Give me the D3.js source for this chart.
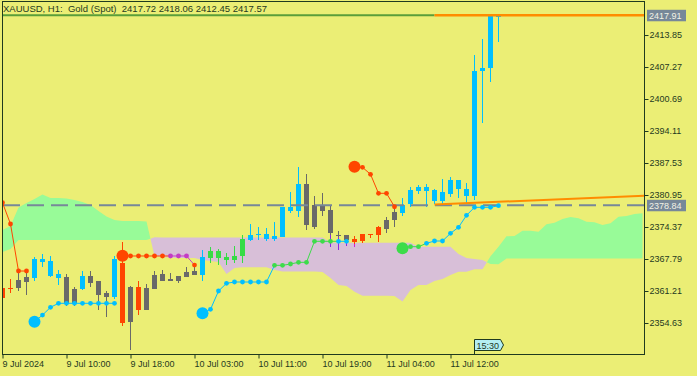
<!DOCTYPE html>
<html>
<script src="https://d3js.org/d3.v7.min.js"></script>

<head>
    <style>
        body {
            margin: 0;
            background-color: #ebee75;
        }

        svg {
            display: block;
        }
    </style>
</head>

<body>
</body>
<script>
    const width = 697,
        height = 376;

    // XAUUSD H1, one entry per bar (bar 0 = 9 Jul 02:00)
    const opens = [2361.82, 2361.80, 2363.47, 2364.09, 2363.94, 2367.23, 2364.29, 2363.94, 2364.09, 2361.62,
        2361.56, 2364.29, 2363.26, 2360.74, 2360.04, 2367.03, 2362.09, 2362.09, 2361.89, 2364.50,
        2364.70, 2363.74, 2364.29, 2365.12, 2365.26, 2364.56, 2367.99, 2367.99, 2367.64, 2367.52,
        2368.34, 2371.76, 2372.66, 2371.90, 2371.90, 2372.37, 2377.72, 2377.72, 2383.21, 2378.89,
        2378.89, 2377.86, 2372.75, 2372.66, 2371.90, 2372.93, 2372.93, 2374.43, 2375.81, 2377.51,
        2377.31, 2379.04, 2381.77, 2381.77, 2379.72, 2379.72, 2381.15, 2382.18, 2380.74, 2380.74,
        2406.51, 2407.06, 2417.72];
    const highs = [2362.24, 2363.68, 2365.38, 2365.38, 2368.14, 2368.82, 2368.41, 2365.53, 2364.70, 2362.03,
        2365.32, 2365.32, 2363.26, 2361.21, 2368.41, 2371.28, 2362.24, 2363.33, 2362.65, 2365.32,
        2365.53, 2364.85, 2364.29, 2366.08, 2366.62, 2369.70, 2370.26, 2369.91, 2369.02, 2370.40,
        2372.66, 2374.99, 2374.31, 2374.10, 2375.33, 2378.42, 2381.63, 2386.64, 2385.27, 2380.74,
        2381.30, 2378.89, 2373.61, 2372.72, 2372.58, 2372.93, 2372.93, 2374.57, 2376.49, 2378.42,
        2380.27, 2382.66, 2383.01, 2383.21, 2382.12, 2384.24, 2384.71, 2384.03, 2383.48, 2409.74,
        2413.03, 2417.76, 2418.06];
    const lows = [2359.36, 2360.74, 2361.27, 2360.39, 2363.33, 2366.20, 2364.03, 2362.44, 2358.12, 2358.12,
        2361.41, 2362.09, 2357.30, 2355.92, 2359.50, 2354.01, 2349.08, 2356.27, 2357.30, 2361.62,
        2363.26, 2363.33, 2362.91, 2364.15, 2364.44, 2363.20, 2366.97, 2366.62, 2366.62, 2366.97,
        2366.97, 2371.43, 2371.76, 2371.55, 2371.55, 2372.31, 2377.19, 2376.36, 2373.75, 2373.90,
        2376.63, 2370.32, 2369.64, 2370.46, 2370.32, 2371.02, 2372.17, 2371.34, 2373.07, 2374.31,
        2376.63, 2378.54, 2381.15, 2378.42, 2379.10, 2379.10, 2380.48, 2380.27, 2379.24, 2379.92,
        2395.82, 2404.25, 2412.45];
    const closes = [2359.77, 2361.76, 2361.89, 2363.12, 2367.79, 2367.79, 2367.38, 2364.70, 2358.68, 2358.68,
        2364.29, 2362.91, 2360.39, 2360.04, 2367.79, 2354.57, 2354.89, 2357.30, 2357.30, 2361.62,
        2363.26, 2363.33, 2363.26, 2364.15, 2364.56, 2368.14, 2369.37, 2369.37, 2368.20, 2368.34,
        2371.90, 2372.66, 2372.93, 2372.93, 2372.46, 2378.42, 2378.42, 2383.21, 2374.78, 2374.31,
        2377.72, 2373.07, 2372.72, 2371.76, 2371.34, 2371.55, 2372.90, 2372.72, 2373.96, 2375.81,
        2378.89, 2381.98, 2382.66, 2382.53, 2381.98, 2381.50, 2384.03, 2384.03, 2382.18, 2406.51,
        2407.06, 2417.72, 2417.57];
    // candle colour state: b = blue, g = gray, r = red, l = lime
    const candleKind = ["r", "r", "g", "g", "b", "b", "b", "b", "g", "g",
        "b", "g", "g", "g", "b", "r", "g", "r", "g", "g",
        "g", "g", "g", "g", "g", "b", "l", "l", "l", "l",
        "l", "b", "b", "b", "b", "b", "b", "b", "g", "g",
        "g", "g", "g", "g", "r", "r", "r", "r", "g", "g",
        "b", "b", "b", "b", "b", "b", "b", "b", "b", "b",
        "b", "b", "b"];
    // bars whose lower wick is tinted
    const tintBars = [41, 42, 43, 44];
    const tintKind = ["v", "v", "v", "m"];

    // dotted trend indicator
    const trendValues = [2379.37, 2374.99, 2365.32, 2365.32,
        2354.89, 2356.27, 2357.86, 2358.68, 2358.68, 2358.68, 2358.68, 2358.68, 2358.68, 2358.68, 2358.68,
        2368.45, 2368.41, 2368.41, 2368.41, 2368.41, 2368.41, 2368.41, 2368.41, 2368.41, 2366.55,
        2356.62, 2357.44, 2361.21, 2362.79, 2363.06, 2363.06, 2363.06, 2363.06, 2363.06, 2366.49,
        2366.49, 2366.76, 2367.11, 2367.11, 2371.43, 2371.43, 2371.43, 2371.43, 2371.43,
        2386.77, 2386.64, 2385.21, 2381.30, 2381.30, 2378.54,
        2369.99, 2370.32, 2370.32, 2371.02, 2371.49, 2371.49, 2373.07, 2374.31, 2376.77, 2378.42,
        2378.42, 2378.42, 2378.75];
    const trendKind = ["r", "r", "r", "r",
        "b", "b", "b", "b", "b", "b", "b", "b", "b", "b", "b",
        "r", "r", "r", "r", "r", "r", "m", "m", "m", "r",
        "b", "b", "b", "b", "b", "b", "b", "b", "b", "l",
        "l", "l", "l", "l", "l", "l", "l", "b", "b",
        "r", "r", "r", "r", "r", "r",
        "l", "l", "l", "b", "b", "b", "b", "b", "b", "b",
        "b", "b", "b"];
    const trendStarts = [4, 15, 25, 44, 50];

    // cloud spans, bar 0 .. 80 (projected ahead)
    const spanA = [2373.75, 2374.57, 2378.38, 2379.30, 2380.13, 2381.05, 2380.33, 2380.33, 2380.23, 2379.92,
        2379.51, 2378.89, 2377.66, 2376.53, 2375.81, 2375.60, 2375.60, 2375.60, 2375.50, 2368.41,
        2368.20, 2368.10, 2367.99, 2367.99, 2367.99, 2367.58, 2367.38, 2367.17, 2364.70, 2365.94,
        2366.08, 2366.08, 2366.08, 2366.08, 2365.53, 2365.22, 2365.22, 2365.22, 2365.22, 2365.22,
        2365.10, 2363.88, 2362.44, 2362.24, 2361.06, 2360.24, 2360.24, 2360.24, 2360.24, 2360.18,
        2359.05, 2361.41, 2362.44, 2362.44, 2363.26, 2363.68, 2364.50, 2365.18, 2365.18, 2365.67,
        2365.67, 2368.34, 2370.32, 2372.46, 2372.52, 2373.61, 2373.61, 2373.40, 2374.92, 2375.25,
        2376.01, 2376.42, 2376.16, 2375.46, 2375.33, 2374.78, 2375.13, 2376.49, 2376.63, 2377.04,
        2377.19];
    const spanB = [2369.23, 2369.84, 2371.70, 2371.70, 2371.70, 2371.70, 2371.70, 2371.70, 2371.70, 2371.70,
        2371.70, 2371.70, 2371.70, 2371.70, 2371.70, 2371.70, 2371.70, 2371.70, 2371.70, 2372.25,
        2372.21, 2372.21, 2372.21, 2372.21, 2372.21, 2372.21, 2372.21, 2372.21, 2372.21, 2372.21,
        2372.21, 2372.21, 2372.21, 2372.21, 2372.21, 2372.21, 2372.21, 2372.21, 2372.21, 2372.21,
        2372.21, 2371.18, 2371.14, 2371.14, 2371.14, 2371.14, 2371.14, 2371.14, 2371.14, 2371.14,
        2371.14, 2371.14, 2370.32, 2370.32, 2370.32, 2370.32, 2370.32, 2368.82, 2367.99, 2367.79,
        2367.58, 2366.76, 2366.70, 2367.89, 2367.89, 2367.89, 2367.89, 2367.89, 2367.89, 2367.89,
        2367.89, 2367.89, 2367.89, 2367.89, 2367.89, 2367.89, 2367.89, 2367.89, 2367.89, 2367.89,
        2367.89];

    const priceTicks = [2413.85, 2407.27, 2400.69, 2394.11, 2387.53, 2380.95, 2374.37, 2367.79, 2361.21, 2354.63];
    const timeTickBars = [0, 8, 16, 24, 32, 40, 48, 56];
    const timeLabels = ["9 Jul 2024", "9 Jul 10:00", "9 Jul 18:00", "10 Jul 03:00", "10 Jul 11:00",
        "10 Jul 19:00", "11 Jul 04:00", "11 Jul 12:00"];

    const topLevel = 2417.91; // orange level
    const dashLevel = 2378.84; // gray dashed level
    const rayBars = [54, 80.2];
    const rayPrices = [2379.02, 2380.78];
    const levelStartBar = 54;
    const newsBar = 59;
    const newsLabel = "15:30";
    const title = "XAUUSD, H1:  Gold (Spot)  2417.72 2418.06 2412.45 2417.57";

    const fg = "#1f3a1f";
    const font = "Liberation Sans, Arial, sans-serif";
    const candleColor = d3.scaleOrdinal().domain(["b", "g", "r", "l"])
        .range(["#00bfff", "#696969", "#ff4500", "#36dc46"]);
    const dotColor = d3.scaleOrdinal().domain(["b", "r", "l", "m"])
        .range(["#00bfff", "#ff4500", "#3ddc4a", "#c43cc4"]);
    const tintColor = d3.scaleOrdinal().domain(["v", "m"]).range(["#8a2be2", "#d21fd2"]);

    const x = d3.scaleLinear().domain([0, 80]).range([2.5, 642.5]);
    const y = d3.scaleLinear().domain([2348.05, 2420.64]).range([355, 2]);

    const svg = d3.select("body").append("svg").attr("width", width).attr("height", height);
    svg.append("rect").attr("width", width).attr("height", height).attr("fill", "#ebee75");

    svg.append("defs").append("clipPath").attr("id", "plot").append("rect")
        .attr("x", 2).attr("y", 2).attr("width", 642).attr("height", 353);
    const plot = svg.append("g").attr("clip-path", "url(#plot)");

    // cloud: split into runs where A is above / below B
    const runs = [];
    let cur = null;
    for (let i = 0; i < spanA.length; i++) {
        const up = spanA[i] >= spanB[i];
        if (cur && cur.up !== up) {
            const d0 = spanA[i - 1] - spanB[i - 1],
                d1 = spanA[i] - spanB[i];
            const t = d0 / (d0 - d1);
            const v = spanA[i - 1] + t * (spanA[i] - spanA[i - 1]);
            const cross = { i: i - 1 + t, a: v, b: v };
            cur.pts.push(cross);
            runs.push(cur);
            cur = { up, pts: [cross] };
        }
        if (!cur) cur = { up, pts: [] };
        cur.pts.push({ i, a: spanA[i], b: spanB[i] });
    }
    runs.push(cur);
    const cloudArea = d3.area().x(d => x(d.i)).y0(d => y(d.b)).y1(d => y(d.a));
    plot.append("g").selectAll("path").data(runs).join("path")
        .attr("fill", d => d.up ? "#98fb98" : "#d8bfd8")
        .attr("d", d => cloudArea(d.pts));

    // candles
    const bars = opens.map((o, i) => ({ i, o, h: highs[i], l: lows[i], c: closes[i], k: candleKind[i] }));
    const cg = plot.append("g").attr("shape-rendering", "crispEdges");
    cg.selectAll("line").data(bars).join("line")
        .attr("x1", d => x(d.i)).attr("x2", d => x(d.i))
        .attr("y1", d => y(d.h)).attr("y2", d => y(d.l))
        .attr("stroke", d => candleColor(d.k));
    cg.selectAll(".tint").data(tintBars).join("line")
        .attr("class", "tint")
        .attr("x1", d => x(d)).attr("x2", d => x(d))
        .attr("y1", d => y(Math.min(opens[d], closes[d])) + 2)
        .attr("y2", d => y(lows[d]))
        .attr("stroke", (d, j) => tintColor(tintKind[j]));
    cg.selectAll("rect").data(bars).join("rect")
        .attr("x", d => x(d.i) - 2.5)
        .attr("width", 5)
        .attr("y", d => y(Math.max(d.o, d.c)))
        .attr("height", d => Math.max(1, y(Math.min(d.o, d.c)) - y(Math.max(d.o, d.c))))
        .attr("fill", d => candleColor(d.k));

    // gray dashed level
    plot.append("line")
        .attr("x1", 3).attr("x2", 644)
        .attr("y1", y(dashLevel)).attr("y2", y(dashLevel))
        .attr("stroke", "#778899").attr("stroke-width", 2)
        .attr("stroke-dasharray", "17,7");

    // trend dots and links
    const tg = plot.append("g");
    trendValues.forEach((v, i) => {
        if (i + 1 < trendValues.length && !trendStarts.includes(i + 1)) {
            tg.append("line")
                .attr("x1", x(i)).attr("y1", y(v))
                .attr("x2", x(i + 1)).attr("y2", y(trendValues[i + 1]))
                .attr("stroke", dotColor(trendKind[i]));
        }
    });
    tg.selectAll("circle").data(trendValues.map((v, i) => ({ i, v })))
        .join("circle")
        .attr("cx", d => x(d.i)).attr("cy", d => y(d.v))
        .attr("r", d => trendStarts.includes(d.i) ? 6 : 2.4)
        .attr("fill", d => dotColor(trendKind[d.i]));

    // top level lines
    plot.append("line")
        .attr("x1", 2).attr("x2", x(levelStartBar))
        .attr("y1", y(topLevel)).attr("y2", y(topLevel))
        .attr("stroke", "#5a9e3a").attr("stroke-width", 2);
    plot.append("line")
        .attr("x1", x(levelStartBar)).attr("x2", 644)
        .attr("y1", y(topLevel)).attr("y2", y(topLevel))
        .attr("stroke", "#ff8c00").attr("stroke-width", 2.5);
    plot.append("line")
        .attr("x1", x(rayBars[0])).attr("y1", y(rayPrices[0]))
        .attr("x2", x(rayBars[1])).attr("y2", y(rayPrices[1]))
        .attr("stroke", "#ff8c00").attr("stroke-width", 2);

    // frame
    svg.append("rect")
        .attr("x", 2.5).attr("y", 1.5).attr("width", 642).attr("height", 353)
        .attr("fill", "none").attr("stroke", fg);

    // axes
    const yAxis = svg.append("g").attr("transform", "translate(644.5,0)")
        .call(d3.axisRight(y).tickValues(priceTicks).tickSize(4).tickPadding(1)
            .tickFormat(d3.format(".2f")));
    const xAxis = svg.append("g").attr("transform", "translate(0,354.5)")
        .call(d3.axisBottom(x).tickValues(timeTickBars).tickSize(4).tickPadding(2)
            .tickFormat((d, i) => timeLabels[i]));
    [yAxis, xAxis].forEach(a => {
        a.select(".domain").remove();
        a.attr("font-family", font).attr("font-size", 9);
        a.selectAll("line").attr("stroke", fg);
        a.selectAll("text").attr("fill", fg);
    });
    xAxis.selectAll("text").attr("text-anchor", "start").attr("dx", -0.5);

    // price boxes on the right
    [topLevel, dashLevel].forEach(p => {
        svg.append("rect")
            .attr("x", 647).attr("y", y(p) - 5.5).attr("width", 39).attr("height", 11.5)
            .attr("fill", "#778899");
        svg.append("text")
            .attr("x", 649).attr("y", y(p) + 3.3)
            .attr("font-family", font).attr("font-size", 9)
            .attr("fill", "#f2f2e6")
            .text(d3.format(".2f")(p));
    });

    // news time marker
    const nx = x(newsBar);
    svg.append("path")
        .attr("d", `M${nx},354.5V339.5H${nx + 26}L${nx + 29},345L${nx + 26},350.5H${nx}`)
        .attr("fill", "#b4eef2").attr("stroke", fg);
    svg.append("text")
        .attr("x", nx + 2).attr("y", 348.5)
        .attr("font-family", font).attr("font-size", 9)
        .attr("fill", fg)
        .text(newsLabel);

    // title
    svg.append("text")
        .attr("x", 3).attr("y", 12)
        .attr("font-family", font).attr("font-size", 9.5)
        .attr("fill", fg)
        .style("white-space", "pre")
        .text(title);
</script>

</html>
